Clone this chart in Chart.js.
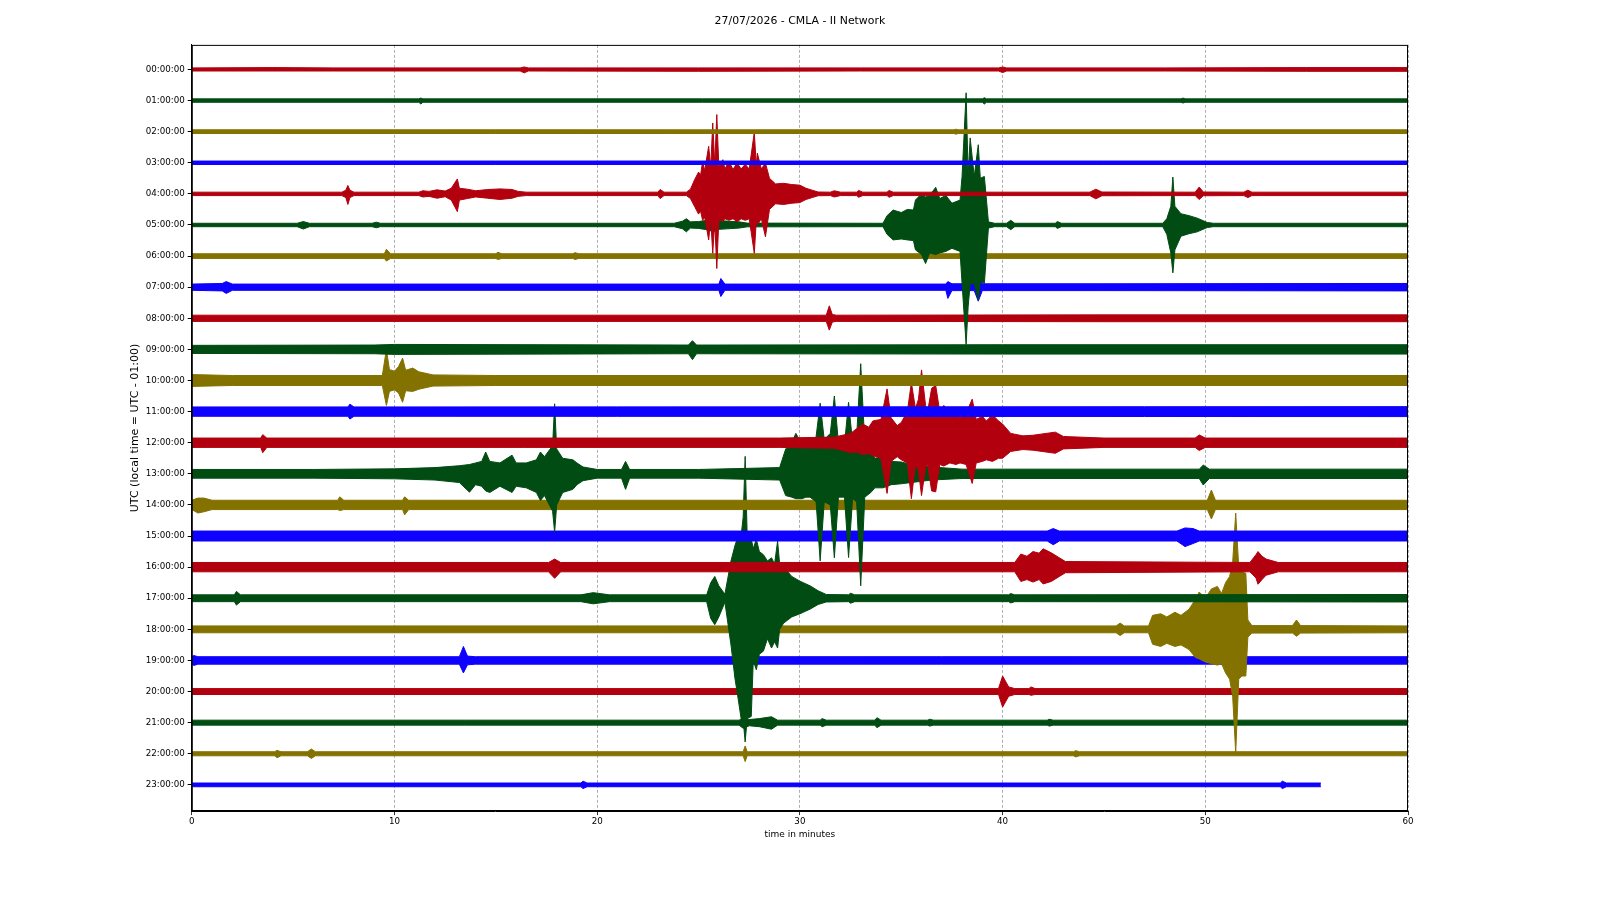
<!DOCTYPE html>
<html>
<head>
<meta charset="utf-8">
<title>CMLA helicorder</title>
<script src="https://cdn.jsdelivr.net/npm/chart.js@4.4.1/dist/chart.umd.min.js"></script>
<style>
  html, body { margin: 0; padding: 0; background: #fff; }
</style>
</head>
<body>
<canvas id="heli" width="1600" height="900"></canvas>
<script>
// ── Axis labels ─────────────────────────────────────────────────
const hourLabels = [
  "00:00:00", "01:00:00", "02:00:00", "03:00:00", "04:00:00", "05:00:00",
  "06:00:00", "07:00:00", "08:00:00", "09:00:00", "10:00:00", "11:00:00",
  "12:00:00", "13:00:00", "14:00:00", "15:00:00", "16:00:00", "17:00:00",
  "18:00:00", "19:00:00", "20:00:00", "21:00:00", "22:00:00", "23:00:00"
];
const minuteTicks = [0, 10, 20, 30, 40, 50, 60];
const traceColors = ["#B2000F", "#004C12", "#847200", "#0E01FF"];

// ── Trace envelopes ─────────────────────────────────────────────
// each point: [minute, amplitude up, amplitude down], 100 = one hour line
const trace00 = [[0,5,5],[4,6,5],[7,5,5],[16.2,5,5],[16.4,8,11],[16.6,5,5],[25,5,6],[33,5,5],[39.8,5,5],[40.0,8,10],[40.2,5,5],[48,5,5],[55,6,6],[60,6,6]];
const trace01 = [[0,5.5,5.5],[11.2,5.5,5.5],[11.3,8,11],[11.4,5.5,5.5],[39.0,5.5,5.5],[39.1,9,11],[39.2,5.5,5.5],[48.8,5.5,5.5],[48.9,8,8],[49.0,5.5,5.5],[60,5.5,5.5]];
const trace02 = [[0,6,6],[30,6,6],[37.6,6,6],[37.7,8,8],[37.8,6,6],[60,6,6]];
const trace03 = [[0,5.5,5.5],[30,5.5,5.5],[60,5.5,5.5]];
const trace04 = [[0,5.5,5.5],[7.4,5.5,5.5],[7.6,12,12],[7.7,27,34],[7.8,12,12],[8.0,5.5,5.5],
  [11.2,5.5,5.5],[11.4,10,10],[11.7,8,8],[12.1,13,14],[12.5,9,9],[12.8,18,20],[13.1,48,57],[13.2,18,20],[13.6,15,15],[14.0,10,10],[14.6,14,14],[15.2,16,18],[15.8,14,14],[16.1,8,8],[16.5,5.5,5.5],
  [23.0,5.5,5.5],[23.1,14,15],[23.3,5.5,5.5],
  [24.4,5.5,5.5],[24.6,15,15],[24.8,45,40],[25.0,70,65],[25.1,60,55],[25.2,104,85],[25.3,75,75],[25.5,153,148],[25.6,85,80],[25.7,228,191],[25.8,95,90],[25.9,255,240],[26.0,90,85],[26.2,110,88],[26.3,80,80],[26.5,105,85],[26.7,78,80],[26.9,100,90],[27.1,80,80],[27.3,95,85],[27.5,80,80],[27.75,198,191],[27.85,90,85],[27.9,131,100],[28.1,80,80],[28.3,99,138],[28.5,50,50],[28.8,32,32],[29.2,34,34],[29.6,30,30],[30.0,28,28],[30.3,18,18],[30.6,12,12],[30.9,6,6],
  [31.5,5.5,5.5],[31.7,10,10],[32.0,5.5,5.5],[32.8,5.5,5.5],[32.9,11,11],[33.1,5.5,5.5],[34.3,5.5,5.5],[34.4,11,11],[34.6,5.5,5.5],
  [44.3,5.5,5.5],[44.6,15,16],[44.9,6,6],[49.5,5.5,5.5],[49.7,22,18],[49.9,6,6],[51.9,5.5,5.5],[52.1,12,12],[52.3,5.5,5.5],[60,5.5,5.5]];
const trace05 = [[0,5.5,5.5],[5.2,5.5,5.5],[5.5,11,13],[5.8,5.5,5.5],[8.9,5.5,5.5],[9.1,9,9],[9.3,5.5,5.5],
  [23.8,5.5,5.5],[24.2,12,12],[24.4,20,22],[24.6,10,10],[25.0,11,11],[25.5,16,16],[25.7,22,22],[26.0,14,14],[27.0,10,10],[27.4,6,6],
  [34.1,5.5,5.5],[34.3,30,30],[34.6,48,48],[35.0,40,45],[35.3,50,48],[35.6,48,50],[35.7,80,80],[36.0,100,95],[36.2,90,124],[36.4,95,90],[36.7,121,95],[36.9,85,90],[37.2,95,85],[37.5,70,75],[37.9,80,85],[38.0,156,188],[38.2,425,384],[38.3,160,263],[38.4,280,190],[38.6,156,188],[38.8,258,242],[38.9,150,180],[39.1,156,188],[39.3,10,10],[39.6,5.5,5.5],
  [40.2,5.5,5.5],[40.4,15,15],[40.6,5.5,5.5],[42.6,5.5,5.5],[42.7,11,11],[42.9,5.5,5.5],
  [47.9,5.5,5.5],[48.1,20,30],[48.3,60,90],[48.4,154,154],[48.5,60,80],[48.8,36,36],[49.2,30,28],[49.6,22,22],[50.1,8,8],[50.4,5.5,5.5],[60,5.5,5.5]];
const trace06 = [[0,7.5,7.5],[9.5,7.5,7.5],[9.6,22,16],[9.8,7.5,7.5],[15.0,7.5,7.5],[15.1,12,11],[15.3,7.5,7.5],[18.8,7.5,7.5],[18.9,11,11],[19.1,7.5,7.5],[60,7.5,7.5]];
const trace07 = [[0,10,10],[1.5,12,12],[1.7,18,20],[2.0,10,10],[26.0,10,10],[26.1,28,30],[26.3,10,10],[37.2,10,10],[37.3,18,36],[37.5,11,11],[38.6,11,11],[38.8,40,45],[39.0,11,11],[45,11,11],[60,12,12]];
const trace08 = [[0,10,10],[20,10,10],[31.3,10,10],[31.45,40,38],[31.6,12,12],[31.8,10,10],[45,11,11],[60,11,11]];
const trace09 = [[0,13,13],[9.0,14,14],[10,16,16],[24.5,14,14],[24.7,28,33],[24.9,14,14],[40,15,15],[60,15,15]];
const trace10 = [[0,19,19],[2,16,16],[9.4,16,16],[9.6,100,80],[9.75,35,35],[10.0,30,30],[10.2,45,40],[10.4,72,70],[10.55,33,33],[10.9,40,35],[11.2,28,28],[11.9,18,18],[15,16,16],[60,16,16]];
const trace11 = [[0,15,15],[7.7,15,15],[7.8,24,24],[8.0,15,15],[60,16,16]];
const trace12 = [[0,15,15],[3.4,15,15],[3.5,26,32],[3.7,15,15],[29,15,15],[31.7,18,18],[32.5,30,32],[32.8,45,30],[33.1,60,38],[33.4,50,35],[33.6,70,42],[34.0,75,50],[34.3,173,163],[34.5,80,60],[34.8,55,45],[35.0,65,55],[35.3,100,65],[35.5,193,180],[35.7,110,70],[35.85,140,90],[36.0,234,170],[36.2,120,80],[36.3,100,70],[36.5,175,155],[36.7,184,158],[36.9,100,70],[37.1,120,75],[37.4,95,65],[37.7,110,70],[37.9,80,65],[38.2,95,70],[38.5,140,131],[38.7,75,65],[39.0,85,60],[39.2,70,55],[39.5,90,60],[39.8,70,50],[40.0,60,50],[40.4,30,28],[41.0,22,22],[41.5,24,24],[42.6,34,34],[43.0,20,20],[45,15,15],[49.5,15,15],[49.7,25,25],[50.0,15,15],[60,15,15]];
const trace13 = [[0,14,14],[6,14,14],[10.0,16,16],[12.0,20,20],[13.2,26,28],[13.7,30,59],[14.0,35,35],[14.3,40,40],[14.5,70,55],[14.7,40,60],[15.2,35,40],[15.8,60,60],[16.0,35,40],[16.5,35,45],[17.0,45,60],[17.2,70,86],[17.4,55,70],[17.8,90,120],[17.9,225,188],[18.0,80,100],[18.3,50,60],[18.8,45,50],[19.0,35,35],[19.3,22,22],[20.0,14,14],[21.2,14,14],[21.4,40,50],[21.6,14,14],[25,14,14],
  [29.0,20,20],[29.3,80,70],[29.6,100,75],[29.8,130,80],[30.1,95,80],[30.3,110,75],[30.5,95,75],[30.8,120,90],[31.0,227,280],[31.2,110,90],[31.5,130,100],[31.7,250,270],[31.9,100,75],[32.2,95,75],[32.4,230,269],[32.6,100,80],[32.8,120,90],[33.0,354,360],[33.2,100,75],[33.5,70,60],[33.7,50,45],[34.1,55,45],[34.5,40,35],[35.0,38,32],[35.5,30,28],[36.5,22,20],[38,15,15],[45,15,15],[49.7,15,15],[49.9,28,36],[50.2,15,15],[60,15,15]];
const trace14 = [[0,15,15],[0.3,22,26],[0.6,22,22],[1.0,15,15],[7.2,15,15],[7.3,26,18],[7.5,15,15],[10.4,15,15],[10.5,26,32],[10.7,15,15],[30,15,15],[50.1,15,15],[50.3,48,45],[50.5,15,15],[60,15,15]];
const trace15 = [[0,16,16],[20,16,16],[42.2,16,16],[42.5,24,28],[42.8,16,16],[48.6,16,16],[49.0,26,34],[49.4,24,24],[49.7,16,16],[60,16,16]];
const trace16 = [[0,15,15],[17.6,15,15],[17.9,26,36],[18.2,15,15],[40.6,15,15],[40.9,42,46],[41.2,35,40],[41.5,50,48],[41.8,45,40],[42.0,59,54],[42.4,46,46],[42.8,30,30],[43.1,18,18],[52.2,15,15],[52.5,40,35],[52.6,50,55],[52.8,35,40],[53.0,26,26],[53.6,15,15],[60,15,15]];
const trace17 = [[0,11,11],[2.1,11,11],[2.2,22,22],[2.4,11,11],[19.2,11,11],[19.8,18,18],[20.6,11,11],[25.4,11,11],[25.6,50,65],[25.8,70,85],[26.0,40,60],[26.3,13,13],[26.6,120,150],[26.8,170,260],[26.9,190,300],[27.1,200,387],[27.2,260,390],[27.3,456,462],[27.4,200,387],[27.6,190,380],[27.7,160,200],[27.85,190,230],[28.0,150,180],[28.2,140,170],[28.4,120,130],[28.6,130,160],[28.75,110,140],[28.9,184,160],[29.0,110,100],[29.2,100,80],[29.4,85,70],[29.6,70,60],[30.0,55,50],[30.5,40,35],[30.9,24,20],[31.3,12,12],[32.4,11,11],[32.5,16,16],[32.7,11,11],[40.3,11,11],[40.4,15,15],[40.6,11,11],[60,12,12]];
const trace18 = [[0,11,11],[30,11,11],[45.6,11,11],[45.8,20,20],[46.0,11,11],[47.2,11,11],[47.4,45,48],[47.8,50,55],[48.1,40,45],[48.5,55,55],[48.8,45,50],[49.2,65,65],[49.5,95,90],[49.7,120,95],[50.0,100,105],[50.3,130,110],[50.6,138,115],[50.8,115,110],[51.0,150,140],[51.2,170,160],[51.35,215,215],[51.5,374,397],[51.65,200,160],[51.8,185,150],[52.0,180,150],[52.1,30,25],[52.3,12,12],[54.3,12,12],[54.5,30,22],[54.7,12,12],[60,11,11]];
const trace19 = [[0,12,12],[0.1,16,16],[0.3,12,12],[13.2,12,12],[13.4,45,40],[13.6,14,14],[14,12,12],[60,12,12]];
const trace20 = [[0,9.5,9.5],[39.8,9.5,9.5],[40.0,50,50],[40.3,15,15],[40.6,9.5,9.5],[41.3,9.5,9.5],[41.4,15,12],[41.6,9.5,9.5],[60,9.5,9.5]];
const trace21 = [[0,8,8],[27.0,8,8],[27.2,16,18],[27.5,10,10],[28.0,13,13],[28.6,19,21],[28.9,8,8],[31.0,8,8],[31.1,13,13],[31.3,8,8],[33.7,8,8],[33.8,16,16],[34.0,8,8],[36.3,8,8],[36.4,11,11],[36.6,8,8],[42.2,8,8],[42.3,11,11],[42.5,8,8],[60,8,8]];
const trace22 = [[0,6.5,6.5],[4.1,6.5,6.5],[4.2,11,13],[4.4,6.5,6.5],[5.7,6.5,6.5],[5.9,15,15],[6.1,6.5,6.5],[27.2,6.5,6.5],[27.3,25,25],[27.4,6.5,6.5],[43.5,6.5,6.5],[43.6,10,10],[43.8,6.5,6.5],[60,6.5,6.5]];
const trace23 = [[0,6,6],[19.2,6,6],[19.3,12,12],[19.5,6,6],[53.7,6,6],[53.8,12,12],[54.0,6,6],[55.7,6,6]];

const traces = [
  trace00, trace01, trace02, trace03, trace04, trace05, trace06, trace07,
  trace08, trace09, trace10, trace11, trace12, trace13, trace14, trace15,
  trace16, trace17, trace18, trace19, trace20, trace21, trace22, trace23
];

const ampScale = 0.01;   // amplitude unit -> hour-line spacing
const fontFamily = "'DejaVu Sans', sans-serif";

// ── Build datasets: upper edge filled down to lower edge ────────
const datasets = [];
traces.forEach((env, row) => {
  const color = traceColors[row % traceColors.length];
  datasets.push({
    data: env.map(p => ({ x: p[0], y: row - p[1] * ampScale })),
    borderColor: color,
    backgroundColor: color,
    borderWidth: 1,
    pointRadius: 0,
    fill: "+1",
  });
  datasets.push({
    data: env.map(p => ({ x: p[0], y: row + p[2] * ampScale })),
    borderColor: color,
    borderWidth: 1,
    pointRadius: 0,
    fill: false,
  });
});

// frame round the plot area, like the matplotlib spines
const frame = {
  id: "frame",
  afterDraw(chart) {
    const { ctx, chartArea: a } = chart;
    ctx.save();
    ctx.strokeStyle = "#000";
    ctx.lineWidth = 1;
    ctx.strokeRect(a.left + 0.5, a.top + 0.5, a.right - a.left - 1, a.bottom - a.top - 1);
    ctx.restore();
  },
};

new Chart(document.getElementById("heli"), {
  type: "line",
  data: { datasets },
  plugins: [frame],
  options: {
    responsive: false,
    animation: false,
    events: [],
    layout: { padding: { left: 124.5, right: 192, top: 10.2, bottom: 53.3 } },
    plugins: {
      legend: { display: false },
      tooltip: { enabled: false },
      title: {
        display: true,
        text: "27/07/2026 - CMLA - II Network",
        fullSize: false,
        color: "#000",
        font: { family: fontFamily, size: 10.9, weight: "normal" },
        padding: { top: 4.6, bottom: 17 },
      },
    },
    scales: {
      x: {
        type: "linear",
        min: 0,
        max: 60,
        afterBuildTicks: (s) => { s.ticks = minuteTicks.map(v => ({ value: v })); },
        afterFit: (s) => { s.height = 35.7; },
        ticks: { color: "#000", padding: 1, font: { family: fontFamily, size: 8.7 } },
        grid: { color: "#9a9a9a", lineWidth: 0.8, tickColor: "#000", tickLength: 4.1, tickBorderDash: [] },
        border: { display: true, color: "#000", dash: [3, 2] },
        title: {
          display: true,
          text: "time in minutes",
          color: "#000",
          font: { family: fontFamily, size: 9 },
          padding: { top: 0, bottom: 6.6 },
        },
      },
      y: {
        type: "linear",
        reverse: true,
        min: -0.79,
        max: 23.84,
        afterBuildTicks: (s) => { s.ticks = hourLabels.map((_, i) => ({ value: i })); },
        afterFit: (s) => { s.width = 67.3; },
        ticks: {
          color: "#000",
          padding: 3,
          font: { family: fontFamily, size: 8.7 },
          callback: (v) => hourLabels[v],
        },
        grid: { drawOnChartArea: false, drawTicks: true, tickLength: 4.1, tickColor: "#000" },
        border: { display: true, color: "#000" },
        title: {
          display: true,
          text: "UTC (local time = UTC - 01:00)",
          color: "#000",
          font: { family: fontFamily, size: 11 },
          padding: { top: 3.6, bottom: 0 },
        },
      },
    },
  },
});
</script>
</body>
</html>
